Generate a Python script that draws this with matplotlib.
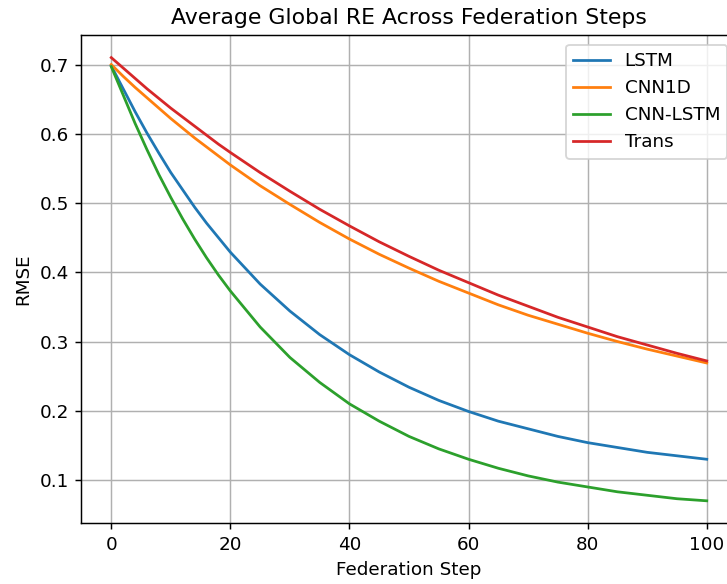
import matplotlib
matplotlib.use("Agg")
import matplotlib.pyplot as plt

# values (denser where the curves bend most)
steps = [0, 2, 4, 6, 8, 10, 12, 14, 16, 18, 20, 25, 30, 35, 40, 45, 50,
         55, 60, 65, 70, 75, 80, 85, 90, 95, 100]

lstm = [0.698, 0.665, 0.632, 0.601, 0.572, 0.544, 0.519, 0.494, 0.471, 0.450, 0.429,
        0.383, 0.344, 0.310, 0.281, 0.256, 0.234,
        0.215, 0.199, 0.185, 0.174, 0.163, 0.154, 0.147, 0.140, 0.135, 0.130]
cnn1d = [0.700, 0.683, 0.667, 0.652, 0.637, 0.622, 0.608, 0.594, 0.581, 0.568, 0.555,
         0.525, 0.498, 0.472, 0.448, 0.426, 0.406,
         0.387, 0.370, 0.353, 0.338, 0.325, 0.312, 0.300, 0.289, 0.279, 0.269]
cnn_lstm = [0.697, 0.656, 0.615, 0.577, 0.541, 0.508, 0.477, 0.448, 0.421, 0.396, 0.373,
            0.321, 0.277, 0.241, 0.210, 0.185, 0.163,
            0.145, 0.130, 0.117, 0.106, 0.097, 0.090, 0.083, 0.078, 0.073, 0.070]
trans = [0.710, 0.695, 0.680, 0.665, 0.651, 0.637, 0.624, 0.611, 0.598, 0.585, 0.573,
         0.544, 0.517, 0.491, 0.467, 0.444, 0.423,
         0.403, 0.385, 0.367, 0.351, 0.335, 0.321, 0.307, 0.295, 0.283, 0.272]

series = [("LSTM", lstm), ("CNN1D", cnn1d), ("CNN-LSTM", cnn_lstm), ("Trans", trans)]

DPI = 132
fig = plt.figure(figsize=(727 / DPI, 584 / DPI), dpi=DPI)
# the reference is cropped on the right, so the axes run past the figure edge
ax = fig.add_axes([0.1121, 0.1045, 0.901, 0.8348])

for name, vals in series:
    ax.plot(steps, vals, label=name)

ax.set_title("Average Global RE Across Federation Steps")
ax.set_xlabel("Federation Step")
ax.set_ylabel("RMSE")
ax.grid(True)
ax.legend(loc="upper right")

fig.savefig("out.png", dpi=DPI)
